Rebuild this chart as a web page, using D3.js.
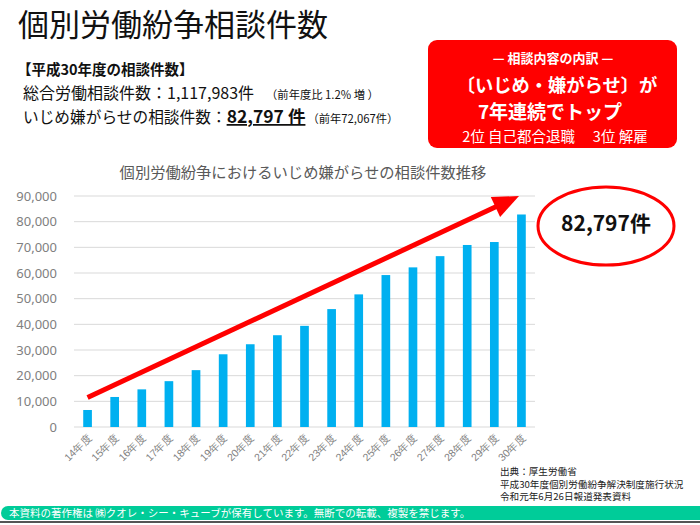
<!DOCTYPE html>
<html><head><meta charset="utf-8">
<script src="https://cdn.jsdelivr.net/npm/d3@7/dist/d3.min.js"></script>
<style>
body{margin:0;background:#fff;}
svg{display:block;font-family:"Noto Sans CJK JP","Noto Sans",sans-serif;}
</style></head>
<body>
<script>
const categories = ["14年度","15年度","16年度","17年度","18年度","19年度","20年度","21年度","22年度","23年度","24年度","25年度","26年度","27年度","28年度","29年度","30年度"];
const values = [6627,11697,14665,17859,22153,28335,32242,35759,39405,45939,51670,59197,62191,66566,70917,72067,82797];
const yTicks = [0,10000,20000,30000,40000,50000,60000,70000,80000,90000];

const W=700,H=525;
const svg=d3.select("body").append("svg").attr("width",W).attr("height",H);

// Title
svg.append("text").attr("x",18).attr("y",36).attr("font-size",31).attr("fill","#111")
  .text("個別労働紛争相談件数");

// Summary text
svg.append("text").attr("x",17).attr("y",75).attr("font-size",14.5).attr("font-weight",700).attr("fill","#111")
  .text("【平成30年度の相談件数】");
const l3=svg.append("text").attr("x",23).attr("y",99).attr("font-size",16).attr("fill","#111");
l3.append("tspan").text("総合労働相談件数：1,117,983件");
l3.append("tspan").attr("font-size",11.3).attr("dx",12).text("（前年度比 1.2% 増 ）");
const l4=svg.append("text").attr("x",23).attr("y",123).attr("font-size",15.7).attr("fill","#111");
l4.append("tspan").text("いじめ嫌がらせの相談件数：");
l4.append("tspan").attr("font-weight",700).attr("font-size",17.5).attr("text-decoration","underline").text("82,797 件");
l4.append("tspan").attr("font-size",11.3).attr("dx",2).text("（前年72,067件）");

// Red box
svg.append("rect").attr("x",428).attr("y",40).attr("width",249).attr("height",108).attr("rx",9).attr("fill","#ff0000");
const bx=553;
svg.append("text").attr("x",bx).attr("y",63).attr("text-anchor","middle").attr("font-size",13).attr("font-weight",700).attr("fill","#fff").text("— 相談内容の内訳 —");
svg.append("text").attr("x",bx+4).attr("y",92).attr("text-anchor","middle").attr("font-size",18.3).attr("font-weight",700).attr("fill","#fff").text("〔いじめ・嫌がらせ〕が");
svg.append("text").attr("x",bx-3).attr("y",119).attr("text-anchor","middle").attr("font-size",19).attr("font-weight",700).attr("fill","#fff").text("7年連続でトップ");
svg.append("text").attr("x",bx+2).attr("y",142).attr("text-anchor","middle").attr("font-size",14.5).attr("fill","#fff").text("2位 自己都合退職　 3位 解雇");

// Chart title
svg.append("text").attr("x",303).attr("y",178).attr("text-anchor","middle").attr("font-size",15.3).attr("fill","#595959")
  .text("個別労働紛争におけるいじめ嫌がらせの相談件数推移");

// Scales
const x=d3.scaleBand().domain(categories).range([74,535]).paddingInner(0.68).paddingOuter(0.34);
const y=d3.scaleLinear().domain([0,90000]).range([427,196]);

// Grid
svg.append("g").selectAll("line").data(yTicks).join("line")
  .attr("x1",74).attr("x2",535).attr("y1",d=>y(d)).attr("y2",d=>y(d))
  .attr("stroke","#d9d9d9").attr("stroke-width",1);

// Y axis labels
const yAxis=d3.axisLeft(y).tickValues(yTicks).tickFormat(d3.format(",")).tickSize(0).tickPadding(0);
const gy=svg.append("g").attr("transform","translate(57,0)").call(yAxis);
gy.select(".domain").remove();
gy.selectAll("text").attr("font-size",13).attr("fill","#808080").attr("font-family","'Noto Sans',sans-serif");

// Bars
svg.append("g").selectAll("rect").data(values).join("rect")
  .attr("x",(d,i)=>x(categories[i])).attr("width",x.bandwidth())
  .attr("y",d=>y(d)).attr("height",d=>y(0)-y(d)).attr("fill","#00b0f0");

// X labels
const xAxis=d3.axisBottom(x).tickSize(0).tickPadding(0);
const gx=svg.append("g").attr("transform","translate(0,427)").call(xAxis);
gx.select(".domain").remove();
gx.selectAll("text").attr("font-size",10.5).attr("fill","#808080")
  .attr("text-anchor","end").attr("dy",0)
  .attr("transform","translate(5,11) rotate(-45)");

// Arrow
const ax1=x(categories[0])+x.bandwidth()/2, ay1=y(11500);
const ax2=519, ay2=y(90000);
const ang=Math.atan2(ay2-ay1,ax2-ax1);
const hl=26, hw=11;
const bxp=ax2-hl*Math.cos(ang), byp=ay2-hl*Math.sin(ang);
svg.append("line").attr("x1",ax1).attr("y1",ay1).attr("x2",bxp+4*Math.cos(ang)).attr("y2",byp+4*Math.sin(ang))
  .attr("stroke","#ff0000").attr("stroke-width",5);
const px=-Math.sin(ang), py=Math.cos(ang);
svg.append("path").attr("d",`M${ax2},${ay2}L${bxp+px*hw},${byp+py*hw}L${bxp-px*hw},${byp-py*hw}Z`).attr("fill","#ff0000");

// Ellipse callout
svg.append("ellipse").attr("cx",606).attr("cy",226).attr("rx",68).attr("ry",39)
  .attr("fill","none").attr("stroke","#ff0000").attr("stroke-width",3);
svg.append("text").attr("x",606).attr("y",231).attr("text-anchor","middle").attr("font-size",21).attr("font-weight",700).attr("fill","#111")
  .text("82,797件");

// Source
const src=["出典：厚生労働省","平成30年度個別労働紛争解決制度施行状況","令和元年6月26日報道発表資料"];
svg.append("g").selectAll("text").data(src).join("text")
  .attr("x",500).attr("y",(d,i)=>475+i*12.5).attr("font-size",9.6).attr("fill","#222").text(d=>d);

// Footer
svg.append("path").attr("d","M8,506 L700,506 L700,520 L8,520 A7,7 0 0 1 8,506 Z").attr("fill","#00cc99");
svg.append("rect").attr("x",0).attr("y",521).attr("width",700).attr("height",2).attr("fill","#555");
svg.append("text").attr("x",9).attr("y",517).attr("font-size",10.5).attr("fill","#fff")
  .text("本資料の著作権は ㈱クオレ・シー・キューブが保有しています。無断での転載、複製を禁じます。");
</script>
</body></html>
